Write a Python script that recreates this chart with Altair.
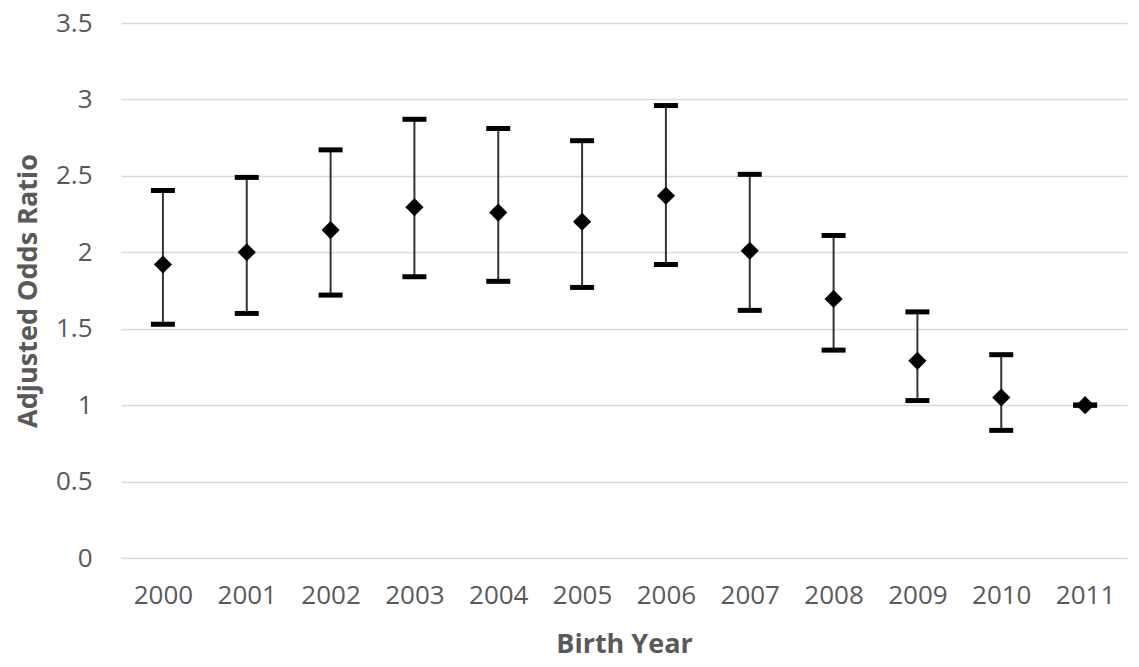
import altair as alt
import pandas as pd

years = ["2000", "2001", "2002", "2003", "2004", "2005", "2006", "2007", "2008", "2009", "2010", "2011"]
odds = [1.92, 2.00, 2.145, 2.295, 2.26, 2.20, 2.37, 2.01, 1.695, 1.29, 1.05, 1.00]
lower = [1.53, 1.60, 1.72, 1.84, 1.81, 1.77, 1.92, 1.62, 1.36, 1.03, 0.835, 1.00]
upper = [2.405, 2.49, 2.67, 2.87, 2.81, 2.73, 2.96, 2.51, 2.11, 1.61, 1.33, 1.00]

df = pd.DataFrame({"year": years, "odds": odds, "lower": lower, "upper": upper})

FONT = "Open Sans"
GRAY = "#595959"

x = alt.X("year:N", title="Birth Year", sort=years,
          scale=alt.Scale(type="point", padding=0.5),
          axis=alt.Axis(labelAngle=0, domain=False, ticks=False, grid=False,
                        labelFont=FONT, labelFontSize=26, labelColor=GRAY,
                        labelPadding=24, titleFont=FONT, titleFontSize=27,
                        titleFontWeight="bold", titleColor=GRAY, titlePadding=23))
yscale = alt.Scale(domain=[0, 3.5], nice=False, zero=True)
yaxis = alt.Axis(values=[0, 0.5, 1, 1.5, 2, 2.5, 3, 3.5], format="~g", domain=False, ticks=False,
                 grid=True, gridColor="#d9d9d9", gridWidth=1.5,
                 labelFont=FONT, labelFontSize=26, labelColor=GRAY, labelPadding=29,
                 titleFont=FONT, titleFontSize=27, titleFontWeight="bold",
                 titleColor=GRAY, titlePadding=13)

base = alt.Chart(df)

rules = base.mark_rule(color="#333333", strokeWidth=2).encode(
    x=x,
    y=alt.Y("lower:Q", scale=yscale, axis=yaxis, title="Adjusted Odds Ratio"),
    y2="upper:Q",
)
cap_lo = base.mark_tick(color="black", size=24, thickness=5, opacity=1).encode(
    x=alt.X("year:N", sort=years), y=alt.Y("lower:Q"))
cap_hi = base.mark_tick(color="black", size=24, thickness=5, opacity=1).encode(
    x=alt.X("year:N", sort=years), y=alt.Y("upper:Q"))
pts = base.mark_point(shape="diamond", filled=True, color="black", size=330, opacity=1).encode(
    x=alt.X("year:N", sort=years), y=alt.Y("odds:Q"))

chart = alt.layer(rules, cap_lo, cap_hi, pts).properties(
    width=1006, height=535,
    padding={"left": 113, "top": 15, "right": 4, "bottom": 101},
    autosize=alt.AutoSizeParams(type="none"),
).configure(background="white").configure_view(stroke=None)

chart.save("out.html", embed_options={"renderer": "svg", "actions": False})
